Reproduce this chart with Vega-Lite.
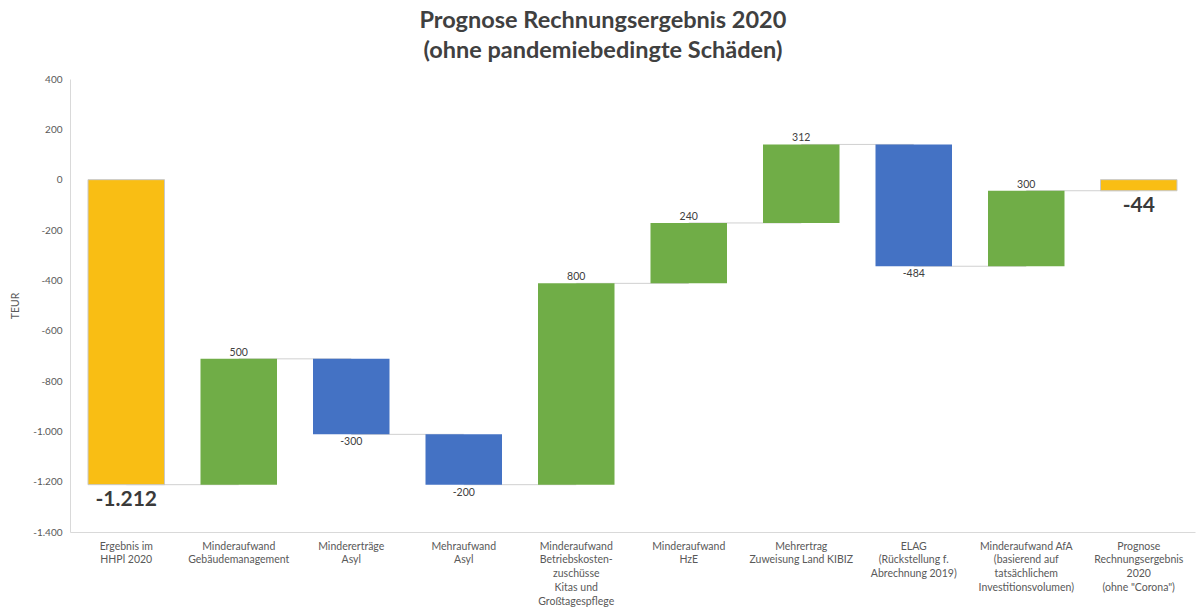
{
  "$schema": "https://vega.github.io/schema/vega-lite/v6.json",
  "width": 1125,
  "height": 453,
  "autosize": {"type": "none"},
  "padding": {"left": 70, "top": 79, "right": 6, "bottom": 79},
  "background": "white",
  "title": {
    "text": ["Prognose Rechnungsergebnis 2020", "(ohne pandemiebedingte Schäden)"],
    "font": "Lato",
    "fontSize": 23.5,
    "fontWeight": "bold",
    "color": "#404040",
    "anchor": "middle",
    "frame": "bounds",
    "lineHeight": 30,
    "offset": 12
  },
  "config": {
    "view": {"stroke": null},
    "axis": {"labelFont": "Lato", "titleFont": "Lato", "labelColor": "#595959", "titleColor": "#595959"}
  },
  "data": {
    "values": [
      {"cat": "Ergebnis im|HHPl 2020", "next": "Minderaufwand|Gebäudemanagement", "start": 0, "end": -1212, "kind": "total", "txt": "-1.212", "ty": -1212, "pos": "big"},
      {"cat": "Minderaufwand|Gebäudemanagement", "next": "Mindererträge|Asyl", "start": -1212, "end": -712, "kind": "up", "txt": "500", "ty": -712, "pos": "above"},
      {"cat": "Mindererträge|Asyl", "next": "Mehraufwand|Asyl", "start": -712, "end": -1012, "kind": "down", "txt": "-300", "ty": -1012, "pos": "below"},
      {"cat": "Mehraufwand|Asyl", "next": "Minderaufwand|Betriebskosten-|zuschüsse|Kitas und|Großtagespflege", "start": -1012, "end": -1212, "kind": "down", "txt": "-200", "ty": -1212, "pos": "below"},
      {"cat": "Minderaufwand|Betriebskosten-|zuschüsse|Kitas und|Großtagespflege", "next": "Minderaufwand|HzE", "start": -1212, "end": -412, "kind": "up", "txt": "800", "ty": -412, "pos": "above"},
      {"cat": "Minderaufwand|HzE", "next": "Mehrertrag|Zuweisung Land KIBIZ", "start": -412, "end": -172, "kind": "up", "txt": "240", "ty": -172, "pos": "above"},
      {"cat": "Mehrertrag|Zuweisung Land KIBIZ", "next": "ELAG|(Rückstellung f.|Abrechnung 2019)", "start": -172, "end": 140, "kind": "up", "txt": "312", "ty": 140, "pos": "above"},
      {"cat": "ELAG|(Rückstellung f.|Abrechnung 2019)", "next": "Minderaufwand AfA|(basierend auf|tatsächlichem|Investitionsvolumen)", "start": 140, "end": -344, "kind": "down", "txt": "-484", "ty": -344, "pos": "below"},
      {"cat": "Minderaufwand AfA|(basierend auf|tatsächlichem|Investitionsvolumen)", "next": "Prognose|Rechnungsergebnis|2020|(ohne \"Corona\")", "start": -344, "end": -44, "kind": "up", "txt": "300", "ty": -44, "pos": "above"},
      {"cat": "Prognose|Rechnungsergebnis|2020|(ohne \"Corona\")", "next": null, "start": 0, "end": -44, "kind": "total", "txt": "-44", "ty": -44, "pos": "big"}
    ]
  },
  "encoding": {
    "x": {
      "field": "cat", "type": "nominal", "sort": null,
      "scale": {"paddingInner": 0.32, "paddingOuter": 0.16},
      "axis": {
        "title": null, "labelAngle": 0, "labelExpr": "split(datum.label, '|')",
        "labelFontSize": 10.5, "labelLineHeight": 13.8, "labelPadding": 9,
        "ticks": false, "domainColor": "#d9d9d9", "labelBaseline": "top", "labelLimit": 200
      }
    }
  },
  "layer": [
    {
      "transform": [{"filter": "datum.next != null"}],
      "mark": {"type": "rule", "color": "#d0d0d0", "strokeWidth": 1},
      "encoding": {
        "x2": {"field": "next"},
        "y": {"field": "end", "type": "quantitative"}
      }
    },
    {
      "mark": {"type": "bar", "strokeWidth": 1},
      "encoding": {
        "y": {
          "field": "start", "type": "quantitative",
          "scale": {"domain": [-1400, 400], "nice": false},
          "axis": {
            "title": "TEUR", "titleFontSize": 10.5, "titleFontWeight": "normal", "titlePadding": 12,
            "values": [-1400, -1200, -1000, -800, -600, -400, -200, 0, 200, 400],
            "labelExpr": "replace(replace(format(datum.value, ','), ',', '.'), '−', '-')",
            "labelFontSize": 10, "grid": false, "ticks": false, "domainColor": "#d9d9d9", "labelPadding": 8
          }
        },
        "y2": {"field": "end"},
        "color": {
          "field": "kind", "type": "nominal", "legend": null,
          "scale": {"domain": ["total", "up", "down"], "range": ["#F9BE14", "#70AD47", "#4472C4"]}
        },
        "stroke": {
          "condition": {"test": "datum.kind == 'total'", "value": "#c8c8c8"},
          "value": "transparent"
        }
      }
    },
    {
      "transform": [{"filter": "datum.pos == 'above'"}],
      "mark": {"type": "text", "baseline": "bottom", "dy": -1, "font": "Lato", "fontSize": 10.5, "color": "#404040"},
      "encoding": {"y": {"field": "ty", "type": "quantitative"}, "text": {"field": "txt"}}
    },
    {
      "transform": [{"filter": "datum.pos == 'below'"}],
      "mark": {"type": "text", "baseline": "top", "dy": 3, "font": "Lato", "fontSize": 10.5, "color": "#404040"},
      "encoding": {"y": {"field": "ty", "type": "quantitative"}, "text": {"field": "txt"}}
    },
    {
      "transform": [{"filter": "datum.pos == 'big'"}],
      "mark": {"type": "text", "baseline": "top", "dy": 4, "font": "Lato", "fontSize": 21, "fontWeight": "bold", "color": "#3a3a3a"},
      "encoding": {"y": {"field": "ty", "type": "quantitative"}, "text": {"field": "txt"}}
    }
  ]
}
